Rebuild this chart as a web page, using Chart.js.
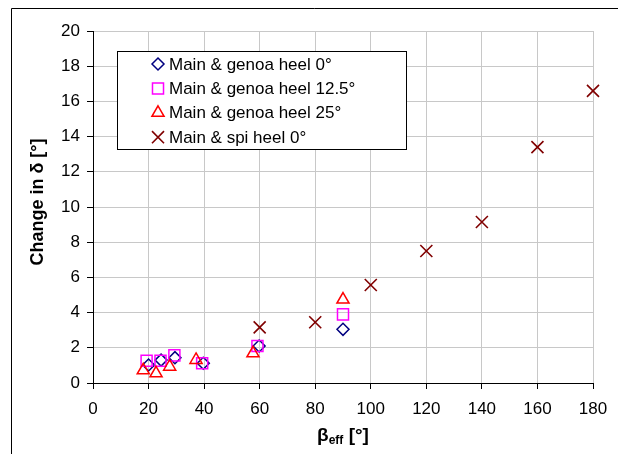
<!DOCTYPE html>
<html>
<head>
<meta charset="utf-8">
<script src="https://cdn.jsdelivr.net/npm/chart.js@4/dist/chart.umd.min.js"></script>
<style>
  html, body { margin: 0; padding: 0; background: #fff; }
  canvas { display: block; }
</style>
</head>
<body>
<canvas id="c" width="618" height="454"></canvas>
<script>
// ---- Data ----
const seriesNames = [
  "Main & genoa heel 0°",
  "Main & genoa heel 12.5°",
  "Main & genoa heel 25°",
  "Main & spi heel 0°"
];
const genoa0X   = [20, 24.5, 29.5, 39.7, 59.8, 90];
const genoa0Y   = [1.02, 1.3, 1.44, 1.12, 2.1, 3.05];
const genoa125X = [19.3, 24.3, 29.3, 39.3, 59.2, 90];
const genoa125Y = [1.27, 1.27, 1.57, 1.12, 2.1, 3.9];
const genoa25X  = [18.1, 22.7, 27.6, 37.1, 57.6, 90];
const genoa25Y  = [0.72, 0.55, 0.93, 1.31, 1.69, 4.74];
const spiX      = [60, 80, 100, 120, 140, 160, 180];
const spiY      = [3.16, 3.45, 5.57, 7.5, 9.15, 13.4, 16.6];
const xTicks    = [0, 20, 40, 60, 80, 100, 120, 140, 160, 180];
const yTicks    = [0, 2, 4, 6, 8, 10, 12, 14, 16, 18, 20];
const yTitle    = "Change in δ [°]";
const xTitleMain = "β", xTitleSub = "eff", xTitleRest = " [°]";

function pts(xs, ys) { return xs.map((x, i) => ({ x: x, y: ys[i] })); }

const FONT = "Arial, 'Liberation Sans', sans-serif";

const styles = [
  { pointStyle: 'rectRot',  color: '#000080', radius: 6,   lw: 1.5 },
  { pointStyle: 'rect',     color: '#FF00FF', radius: 7.8, lw: 1.5 },
  { pointStyle: 'triangle', color: '#FF0000', radius: 7,   lw: 1.5 },
  { pointStyle: 'crossRot', color: '#800000', radius: 8.5, lw: 1.6 }
];
const seriesData = [pts(genoa0X, genoa0Y), pts(genoa125X, genoa125Y), pts(genoa25X, genoa25Y), pts(spiX, spiY)];

const datasets = seriesNames.map((name, i) => ({
  label: name,
  data: seriesData[i],
  order: seriesNames.length - 1 - i,
  pointStyle: styles[i].pointStyle,
  pointRadius: styles[i].radius,
  pointHoverRadius: styles[i].radius,
  pointBorderColor: styles[i].color,
  pointBackgroundColor: 'rgba(0,0,0,0)',
  pointBorderWidth: styles[i].lw,
  borderColor: styles[i].color,
  backgroundColor: 'rgba(0,0,0,0)',
  showLine: false,
  clip: false
}));

function drawMarker(ctx, style, x, y, r) {
  ctx.beginPath();
  if (style === 'rectRot') {
    ctx.moveTo(x, y - r); ctx.lineTo(x + r, y); ctx.lineTo(x, y + r); ctx.lineTo(x - r, y); ctx.closePath();
  } else if (style === 'rect') {
    const s = Math.SQRT1_2 * r; ctx.rect(x - s, y - s, 2 * s, 2 * s);
  } else if (style === 'triangle') {
    for (let k = 0; k < 3; k++) {
      const a = k * 2 * Math.PI / 3;
      const px = x + Math.sin(a) * r, py = y - Math.cos(a) * r;
      if (k === 0) ctx.moveTo(px, py); else ctx.lineTo(px, py);
    }
    ctx.closePath();
  } else if (style === 'crossRot') {
    const o = Math.SQRT1_2 * r;
    ctx.moveTo(x - o, y - o); ctx.lineTo(x + o, y + o);
    ctx.moveTo(x + o, y - o); ctx.lineTo(x - o, y + o);
  }
  ctx.stroke();
}

const decorPlugin = {
  id: 'decor',
  beforeDraw(chart) {
    const ctx = chart.ctx;
    ctx.save();
    ctx.fillStyle = '#fff';
    ctx.fillRect(0, 0, chart.width, chart.height);
    // outer frame (top and left)
    ctx.strokeStyle = '#000';
    ctx.lineWidth = 1;
    ctx.beginPath();
    ctx.moveTo(11.5, chart.height);
    ctx.lineTo(11.5, 8.5);
    ctx.lineTo(chart.width, 8.5);
    ctx.stroke();
    ctx.restore();
  },
  afterDraw(chart) {
    const ctx = chart.ctx;
    const area = chart.chartArea;
    ctx.save();
    // y-axis title
    ctx.fillStyle = '#000';
    ctx.font = "bold 18px " + FONT;
    ctx.textAlign = 'center';
    ctx.textBaseline = 'middle';
    ctx.translate(38, 202);
    ctx.rotate(-Math.PI / 2);
    ctx.fillText(yTitle, 0, 0);
    ctx.restore();

    // x-axis title with subscript
    ctx.save();
    ctx.fillStyle = '#000';
    ctx.textBaseline = 'alphabetic';
    ctx.textAlign = 'left';
    const fMain = "bold 19px " + FONT, fSub = "bold 12px " + FONT;
    ctx.font = fMain; const w1 = ctx.measureText(xTitleMain).width;
    ctx.font = fSub;  const w2 = ctx.measureText(xTitleSub).width;
    ctx.font = fMain; const w3 = ctx.measureText(xTitleRest).width;
    const total = w1 + w2 + w3;
    let x0 = (area.left + area.right) / 2 - total / 2;
    const base = 441;
    ctx.font = fMain; ctx.fillText(xTitleMain, x0, base);
    ctx.font = fSub;  ctx.fillText(xTitleSub, x0 + w1, base + 3);
    ctx.font = fMain; ctx.fillText(xTitleRest, x0 + w1 + w2, base);
    ctx.restore();

    // legend box
    ctx.save();
    const bx = 117.5, by = 51.5, bw = 289, bh = 98;
    ctx.fillStyle = '#fff';
    ctx.fillRect(bx, by, bw, bh);
    ctx.strokeStyle = '#000';
    ctx.lineWidth = 1;
    ctx.strokeRect(bx, by, bw, bh);
    ctx.font = "17px " + FONT;
    ctx.textBaseline = 'middle';
    ctx.textAlign = 'left';
    seriesNames.forEach((name, i) => {
      const ds = chart.data.datasets[i];
      const yy = 64 + i * 24.4;
      ctx.strokeStyle = ds.pointBorderColor;
      ctx.lineWidth = ds.pointBorderWidth;
      drawMarker(ctx, ds.pointStyle, 158, yy, ds.pointRadius);
      ctx.fillStyle = '#000';
      ctx.fillText(ds.label, 169, yy + 1);
    });
    ctx.restore();
  }
};

new Chart(document.getElementById('c'), {
  type: 'scatter',
  data: { datasets: datasets },
  options: {
    responsive: false,
    animation: false,
    devicePixelRatio: 1,
    layout: { padding: { left: 0, top: 31, right: 25, bottom: 0 } },
    plugins: {
      legend: { display: false },
      tooltip: { enabled: false },
      title: { display: false }
    },
    scales: {
      x: {
        type: 'linear',
        min: xTicks[0],
        max: xTicks[xTicks.length - 1],
        afterBuildTicks(scale) { scale.ticks = xTicks.map(v => ({ value: v })); },
        afterFit(scale) { scale.height = 71; },
        ticks: { font: { size: 17, family: FONT }, color: '#000', padding: 10, maxRotation: 0, autoSkip: false },
        grid: { color: '#c8c8c8', lineWidth: 1, tickColor: '#000', tickLength: 6, drawTicks: true },
        border: { color: '#000', width: 1 },
        title: { display: false }
      },
      y: {
        type: 'linear',
        min: yTicks[0],
        max: yTicks[yTicks.length - 1],
        afterBuildTicks(scale) { scale.ticks = yTicks.map(v => ({ value: v })); },
        afterFit(scale) { scale.width = 93; },
        ticks: { font: { size: 17, family: FONT }, color: '#000', padding: 7, autoSkip: false },
        grid: { color: '#c8c8c8', lineWidth: 1, tickColor: '#000', tickLength: 6, drawTicks: true },
        border: { color: '#000', width: 1 },
        title: { display: false }
      }
    }
  },
  plugins: [decorPlugin]
});
</script>
</body>
</html>
